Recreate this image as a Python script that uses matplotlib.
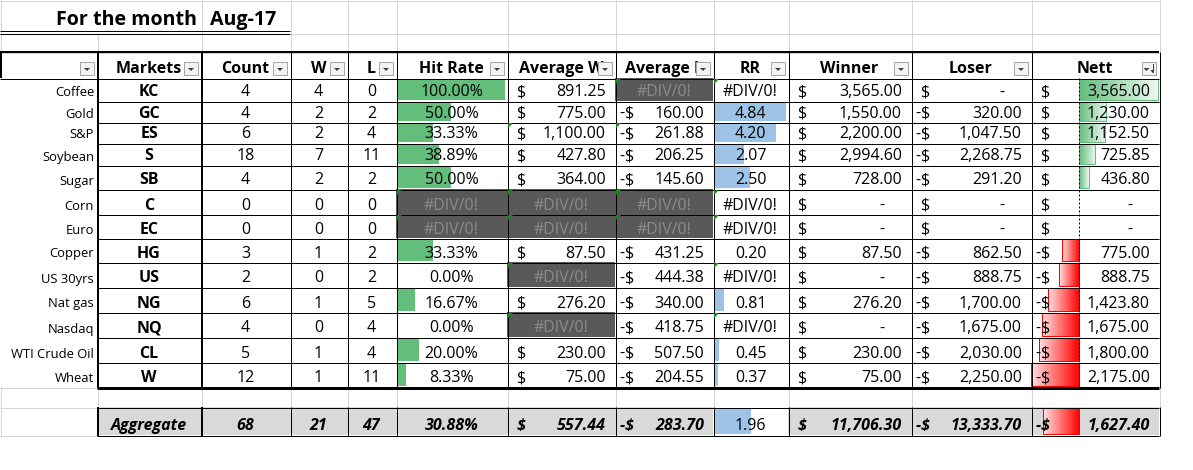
import numpy as np
import matplotlib
matplotlib.use("Agg")
import matplotlib.pyplot as plt
from matplotlib.patches import Rectangle, Polygon
from matplotlib.colors import to_rgb

# ---------------- data ----------------
title_label = "For the month"
title_month = "Aug-17"
headers = ["", "Markets", "Count", "W", "L", "Hit Rate", "Average W", "Average L",
           "RR", "Winner", "Loser", "Nett"]
names = ["Coffee", "Gold", "S&P", "Soybean", "Sugar", "Corn", "Euro", "Copper",
         "US 30yrs", "Nat gas", "Nasdaq", "WTI Crude Oil", "Wheat"]
codes = ["KC", "GC", "ES", "S", "SB", "C", "EC", "HG", "US", "NG", "NQ", "CL", "W"]
count = [4, 4, 6, 18, 4, 0, 0, 3, 2, 6, 4, 5, 12]
wins = [4, 2, 2, 7, 2, 0, 0, 1, 0, 1, 0, 1, 1]
losses = [0, 2, 4, 11, 2, 0, 0, 2, 2, 5, 4, 4, 11]
hit_rate = [1.0, 0.5, 0.3333, 0.3889, 0.5, None, None, 0.3333, 0.0, 0.1667, 0.0, 0.2, 0.0833]
avg_win = [891.25, 775.00, 1100.00, 427.80, 364.00, None, None, 87.50, None, 276.20, None, 230.00, 75.00]
avg_loss = [None, -160.00, -261.88, -206.25, -145.60, None, None, -431.25, -444.38, -340.00,
            -418.75, -507.50, -204.55]
rr = [None, 4.84, 4.20, 2.07, 2.50, None, None, 0.20, None, 0.81, None, 0.45, 0.37]
winner = [3565.00, 1550.00, 2200.00, 2994.60, 728.00, 0, 0, 87.50, 0, 276.20, 0, 230.00, 75.00]
loser = [0, -320.00, -1047.50, -2268.75, -291.20, 0, 0, -862.50, -888.75, -1700.00,
         -1675.00, -2030.00, -2250.00]
nett = [3565.00, 1230.00, 1152.50, 725.85, 436.80, 0, 0, -775.00, -888.75, -1423.80,
        -1675.00, -1800.00, -2175.00]
agg_label = "Aggregate"
agg_count, agg_wins, agg_losses = 68, 21, 47
agg_hit = 0.3088
agg_avg_win, agg_avg_loss = 557.44, -283.70
agg_rr = 1.96
agg_winner, agg_loser, agg_nett = 11706.30, -13333.70, -1627.40
inconsistent = [(2, 6), (2, 7)]   # cells flagged with a green corner (row, col)

# ---------------- layout ----------------
W, H = 1193, 470
cols = [0, 97, 201, 290, 347, 396, 507, 615, 713, 788, 911, 1031, 1159]
rows = [52, 78, 101, 122, 143, 165, 189, 214, 238, 262, 287, 312, 337, 362, 387]
agg_y = (407, 435)
PX = 0.72  # points per pixel

FONT = ["Open Sans", "DejaVu Sans"]
plt.rcParams["font.family"] = FONT

fig = plt.figure(figsize=(W / 100, H / 100), dpi=100)
ax = fig.add_axes([0, 0, 1, 1])
ax.set_xlim(0, W)
ax.set_ylim(H, 0)
ax.axis("off")

GRID = "#D4D4D4"
GREEN = "#63BE7B"
BLUE = "#9DC3E6"
RED = "#FF0000"
DIVFILL = "#595959"
DIVTEXT = "#8C8C8C"
AGGFILL = "#D9D9D9"
FS = 11.5


def hline(y, x0, x1, color="black", w=1, z=5):
    ax.plot([x0, x1], [y + 0.5, y + 0.5], color=color, lw=w * PX, solid_capstyle="butt", zorder=z)


def vline(x, y0, y1, color="black", w=1, z=5):
    ax.plot([x + 0.5, x + 0.5], [y0, y1], color=color, lw=w * PX, solid_capstyle="butt", zorder=z)


def txt(x, y, s, ha="center", color="black", size=FS, weight="normal", style="normal", z=8):
    ax.text(x, y, s, ha=ha, va="baseline", color=color, fontsize=size,
            fontweight=weight, fontstyle=style, zorder=z)


def fill(x0, x1, y0, y1, color, z=1):
    ax.add_patch(Rectangle((x0, y0), x1 - x0, y1 - y0, fc=color, ec="none", zorder=z))


def corner(x, y):
    ax.add_patch(Polygon([(x + 1, y + 1), (x + 6, y + 1), (x + 1, y + 6)],
                         closed=True, fc="#138A13", ec="none", zorder=9))


def grad_bar(xa, xe, y0, y1, color):
    n = 80
    c = np.array(to_rgb(color))
    t = np.linspace(0, 1, n)[:, None]
    g = c[None, :] * (1 - 0.88 * t) + 0.88 * t
    left, right = (xa, xe) if xe >= xa else (xe, xa)
    if xe < xa:
        g = g[::-1]
    ax.imshow(g[None, :, :], extent=[left, right, y1, y0], aspect="auto",
              interpolation="bilinear", zorder=2)
    ax.add_patch(Rectangle((left, y0), right - left, y1 - y0, fc="none", ec=color,
                           lw=1 * PX, zorder=3))


def money(cell_l, cell_r, y, v, weight="normal", style="normal"):
    txt(cell_l + 10, y, "$", ha="left", weight=weight, style=style)
    if v < 0:
        txt(cell_l + 10, y, "-", ha="right", weight=weight, style=style)
    if v == 0:
        txt(cell_r - 27, y, "-", ha="right", weight=weight, style=style)
    else:
        txt(cell_r - 9, y, f"{abs(v):,.2f}", ha="right", weight=weight, style=style)


def dropdown(xr, sort=False):
    x0 = xr - 17
    ax.add_patch(Rectangle((x0, 62), 14, 13, fc="#F3F3F3", ec="#A8A8A8", lw=1 * PX, zorder=10))
    cx = x0 + 7 if not sort else x0 + 4.5
    ax.add_patch(Polygon([(cx - 3, 68), (cx + 3, 68), (cx, 71)], closed=True,
                         fc="#404040", ec="none", zorder=11))
    if sort:
        ax.plot([x0 + 10.5, x0 + 10.5], [64, 72], color="#404040", lw=1 * PX, zorder=11)
        ax.add_patch(Polygon([(x0 + 8.5, 70), (x0 + 12.5, 70), (x0 + 10.5, 73)], closed=True,
                             fc="#404040", ec="none", zorder=11))


# ---------------- sheet gridlines ----------------
hline(0, 0, cols[-1], GRID, z=0)
hline(33, 290, cols[-1], GRID, z=0)
hline(52, 0, cols[-1], GRID, z=0)
vline(0, 0, agg_y[1], GRID, z=0)
for x in cols[2:]:
    vline(x, 0, 52, GRID, z=0)
vline(97, 33, 52, GRID, z=0)
for x in cols:
    vline(x, rows[-1], agg_y[0], GRID, z=0)
for y in [337, 362, 387, 407, 435]:
    hline(y, 0, 97, GRID, z=0)

# title
txt(197, 25, title_label, ha="right", size=14.1, weight="bold")
txt(210, 25, title_month, ha="left", size=14.1, weight="bold")
hline(30.5, 0, 290, "black")
hline(33, 0, 290, "black")

# ---------------- header ----------------
for i, h in enumerate(headers):
    l, r = cols[i], cols[i + 1]
    if h:
        txt((l + r) / 2, 73, h, weight="bold")
    dropdown(r, sort=(i == len(headers) - 1))
hline(51.5, 0, cols[-1], "black", w=2)
vline(0, 52, 78, "black", w=2)
hline(78, 0, cols[-1], "black")

# ---------------- data rows ----------------
rr_vals = [v for v in rr if v is not None]
rr_min, rr_max = min(rr_vals), max(rr_vals)
n_min = min(nett + [agg_nett])
n_max = max(nett + [agg_nett])
nl, nr = cols[11], cols[12]
n_axis = nl + (0 - n_min) / (n_max - n_min) * (nr - 1 - nl)


def nett_bar(v, y0, y1):
    if v == 0:
        return
    xe = nl + (v - n_min) / (n_max - n_min) * (nr - 1 - nl)
    grad_bar(n_axis, xe, y0 + 1, y1 - 1, GREEN if v > 0 else RED)


for k in range(len(names)):
    y0, y1 = rows[k + 1], rows[k + 2]
    yb = y1 - 4.5
    fill(1, 97, y0, y1, "white", z=0.5)
    txt(94, yb, names[k], ha="right", size=9.4)
    txt((cols[1] + cols[2]) / 2, yb, codes[k], weight="bold")
    txt((cols[2] + cols[3]) / 2, yb, str(count[k]))
    txt((cols[3] + cols[4]) / 2, yb, str(wins[k]))
    txt((cols[4] + cols[5]) / 2, yb, str(losses[k]))
    # hit rate
    l, r = cols[5], cols[6]
    if hit_rate[k] is None:
        fill(l, r, y0, y1, DIVFILL)
        txt((l + r) / 2, yb, "#DIV/0!", color=DIVTEXT)
        corner(l, y0)
    else:
        if hit_rate[k] > 0:
            fill(l + 1, l + 1 + hit_rate[k] * (r - l - 3), y0 + 1, y1 - 1, GREEN, z=2)
        txt((l + r) / 2, yb, f"{hit_rate[k] * 100:.2f}%")
    # average win / loss
    for ci, vals in ((6, avg_win), (7, avg_loss)):
        l, r = cols[ci], cols[ci + 1]
        if vals[k] is None:
            fill(l, r, y0, y1, DIVFILL)
            txt((l + r) / 2, yb, "#DIV/0!", color=DIVTEXT)
            corner(l, y0)
        else:
            money(l, r, yb, vals[k])
    # RR
    l, r = cols[8], cols[9]
    if rr[k] is None:
        txt((l + r) / 2, yb, "#DIV/0!")
        corner(l, y0)
    else:
        wbar = (rr[k] - rr_min) / (rr_max - rr_min) * (r - l - 4)
        if wbar > 0:
            fill(l + 2, l + 2 + wbar, y0 + 1, y1 - 1, BLUE, z=2)
        txt((l + r) / 2, yb, f"{rr[k]:.2f}")
    money(cols[9], cols[10], yb, winner[k])
    money(cols[10], cols[11], yb, loser[k])
    nett_bar(nett[k], y0, y1)
    money(cols[11], cols[12], yb, nett[k])

for (rk, ci) in inconsistent:
    corner(cols[ci], rows[rk + 1])

# Nett axis (dashed)
ax.plot([n_axis, n_axis], [rows[1], rows[-1]], color="black", lw=1 * PX,
        dashes=(2, 2), zorder=6)

# table borders
for y in rows[2:-1]:
    hline(y, 97, cols[-1], "black")
hline(rows[-1], 97, cols[-1], "black", w=3)
for i, x in enumerate(cols[1:]):
    wdt = 2 if x in (97, 201) else 1
    vline(x, 52, rows[-1] + 1, "black", w=wdt)

# ---------------- aggregate row ----------------
a0, a1 = agg_y
yb = a1 - 5
fill(cols[1], cols[8], a0, a1, AGGFILL)
fill(cols[9], cols[12], a0, a1, AGGFILL)
bi = dict(weight="bold", style="italic")
txt((cols[1] + cols[2]) / 2, yb, agg_label, **bi)
txt((cols[2] + cols[3]) / 2, yb, str(agg_count), **bi)
txt((cols[3] + cols[4]) / 2, yb, str(agg_wins), **bi)
txt((cols[4] + cols[5]) / 2, yb, str(agg_losses), **bi)
txt((cols[5] + cols[6]) / 2, yb, f"{agg_hit * 100:.2f}%", **bi)
money(cols[6], cols[7], yb, agg_avg_win, **bi)
money(cols[7], cols[8], yb, agg_avg_loss, **bi)
l, r = cols[8], cols[9]
fill(l + 2, l + 2 + 0.5 * (r - l - 4), a0 + 1, a1 - 1, BLUE, z=2)
txt((l + r) / 2, yb, f"{agg_rr:.2f}")
money(cols[9], cols[10], yb, agg_winner, **bi)
money(cols[10], cols[11], yb, agg_loser, **bi)
nett_bar(agg_nett, a0, a1)
money(cols[11], cols[12], yb, agg_nett, **bi)
hline(a0, 97, cols[-1], "black")
hline(a1, 97, cols[-1], "black")
for x in cols[1:]:
    vline(x, a0, a1 + 1, "black", w=2 if x in (97, 201) else 1)

ax.set_xlim(0, W)
ax.set_ylim(H, 0)
fig.savefig("out.png", dpi=100, facecolor="white")
